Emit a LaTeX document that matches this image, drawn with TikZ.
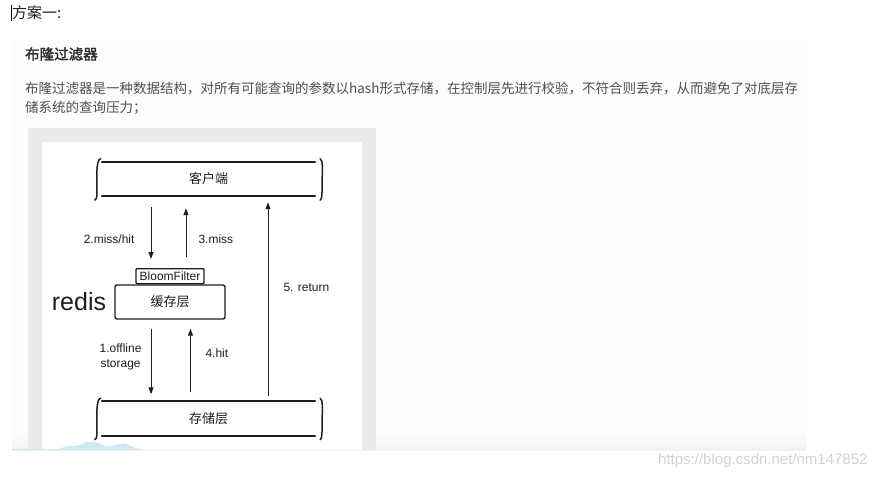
\documentclass[tikz,border=0pt]{standalone}
\usepackage{fontspec}
\setmainfont{Liberation Sans}
\newfontfamily\cjk{Noto Sans CJK SC}[AutoFakeBold=2]
\usetikzlibrary{positioning,arrows.meta}

\definecolor{ink}{HTML}{1F1F1F}
\definecolor{bodytext}{HTML}{4F4F4F}
\definecolor{headtext}{HTML}{2F2F2F}
\definecolor{panelgray}{HTML}{FDFDFD}
\definecolor{framegray}{HTML}{EBEBEB}
\definecolor{wavecol}{HTML}{CFE8F4}
\definecolor{wmgray}{HTML}{D3D3D3}

\tikzset{
  sketch/.style={ink, line width=1.8pt, line cap=round},
  layer/.style={minimum width=213pt, minimum height=34pt, inner sep=0pt,
    text=ink, font=\cjk\fontsize{13}{13}\selectfont},
  cachebox/.style={draw=ink, line width=1.4pt, rounded corners=2pt,
    minimum width=110pt, minimum height=34pt, inner sep=0pt,
    text=ink, font=\cjk\fontsize{13}{13}\selectfont},
  filterbox/.style={draw=ink, line width=1.3pt, rounded corners=1pt,
    minimum width=68pt, minimum height=15pt, inner sep=1pt,
    text=ink, font=\fontsize{12}{12}\selectfont},
  flow/.style={ink, line width=1pt, -{Triangle[length=7pt,width=5pt]}},
  lbl/.style={text=ink, inner sep=0pt, font=\fontsize{12}{15}\selectfont},
}

% top and bottom rules of a layer, with the hand drawn braces
\newcommand\layerlines[1]{%
  \draw[sketch] (#1.north west) -- (#1.north east);
  \draw[sketch] (#1.south west) -- (#1.south east);
  \draw[sketch, line width=1.5pt] ([xshift=-1pt,yshift=3pt]#1.north west)
    .. controls ([xshift=-5pt,yshift=3pt]#1.north west) and ([xshift=-5pt,yshift=8pt]#1.west)
    .. ([xshift=-5pt]#1.west)
    .. controls ([xshift=-5pt,yshift=-10pt]#1.west) and ([xshift=-4pt,yshift=-4pt]#1.south west)
    .. ([xshift=-7pt,yshift=-4pt]#1.south west);
  \draw[sketch, line width=1.5pt] ([xshift=5pt,yshift=3pt]#1.north east)
    .. controls ([xshift=8pt,yshift=2pt]#1.north east) and ([xshift=7pt,yshift=8pt]#1.east)
    .. ([xshift=7pt]#1.east)
    .. controls ([xshift=7pt,yshift=-10pt]#1.east) and ([xshift=7pt,yshift=-4pt]#1.south east)
    .. ([xshift=5pt,yshift=-4pt]#1.south east);
}

\begin{document}
\begin{tikzpicture}[x=1pt,y=-1pt]
  \useasboundingbox (0,0) rectangle (888,479);
  \fill[white] (0,0) rectangle (888,479);

  % page panel and the screenshot frame
  \fill[panelgray] (12,38) rectangle (806,450);
  \shade[top color=panelgray, bottom color=black!5] (12,432) rectangle (806,450);
  \fill[framegray] (28,128) rectangle (376,450);
  \fill[white] (42,142) rectangle (362,450);
  \fill[wavecol] (12,450) -- (12,449) -- (60,449)
    .. controls (68,444) and (74,447) .. (80,445)
    .. controls (88,440) and (96,441) .. (105,446)
    .. controls (114,449) and (120,440) .. (129,445)
    .. controls (135,449) and (140,449) .. (146,450) -- cycle;

  % text of the page
  \draw[black, line width=0.8pt] (11,5) -- (11,21);
  \node[anchor=west, inner sep=0pt, text=ink, font=\cjk\fontsize{15}{15}\selectfont] (title) at (12,13) {方案一:};
  \node[anchor=west, inner sep=0pt, text=headtext, font=\cjk\bfseries\fontsize{14.5}{14.5}\selectfont] (head) at (25,54) {布隆过滤器};
  \node[anchor=west, inner sep=0pt, text=bodytext, font=\cjk\fontsize{13.5}{13.5}\selectfont] (para1) at (25,88)
    {布隆过滤器是一种数据结构，对所有可能查询的参数以hash形式存储，在控制层先进行校验，不符合则丢弃，从而避免了对底层存};
  \node[anchor=west, inner sep=0pt, text=bodytext, font=\cjk\fontsize{13.5}{13.5}\selectfont] (para2) at (25,108)
    {储系统的查询压力；};

  % the diagram
  \node[layer] (client) at (208.5,179) {客户端};
  \node[layer] (storage) at (208.5,418.5) {存储层};
  \node[cachebox] (cache) at (170,302) {缓存层};
  \node[filterbox, above=0pt of cache] (filter) {BloomFilter};
  \node[left=8pt of cache, inner sep=0pt, text=ink, font=\fontsize{25}{25}\selectfont] (redis) {redis};
  \layerlines{client}
  \layerlines{storage}

  \draw[flow] ([xshift=-57.5pt,yshift=-11pt]client.south) -- ([xshift=-19pt,yshift=9pt]filter.north)
    node[lbl, pos=0.62, left=16pt] (l2) {2.miss/hit};
  \draw[flow] ([xshift=16pt,yshift=11pt]filter.north) -- ([xshift=-22.5pt,yshift=-12pt]client.south)
    node[lbl, pos=0.36, right=12pt] (l3) {3.miss};
  \draw[flow] ([xshift=59.5pt,yshift=5pt]storage.north) -- ([xshift=59.5pt,yshift=-6pt]client.south)
    node[lbl, pos=0.56, right=15pt] (l5) {5. return};
  \draw[flow] ([xshift=-19pt,yshift=-9pt]cache.south) -- ([xshift=-57.5pt,yshift=7pt]storage.north)
    node[lbl, pos=0.43, left=9pt, align=center] (l1) {1.offline\\storage};
  \draw[flow] ([xshift=-18pt,yshift=9pt]storage.north) -- ([xshift=20.5pt,yshift=-9pt]cache.south)
    node[lbl, pos=0.62, right=14.5pt] (l4) {4.hit};

  % watermark
  \node[anchor=west, inner sep=0pt, text=wmgray, font=\fontsize{15}{15}\selectfont] (wm) at (658,461)
    {https://blog.csdn.net/nm147852};
\end{tikzpicture}
\end{document}
